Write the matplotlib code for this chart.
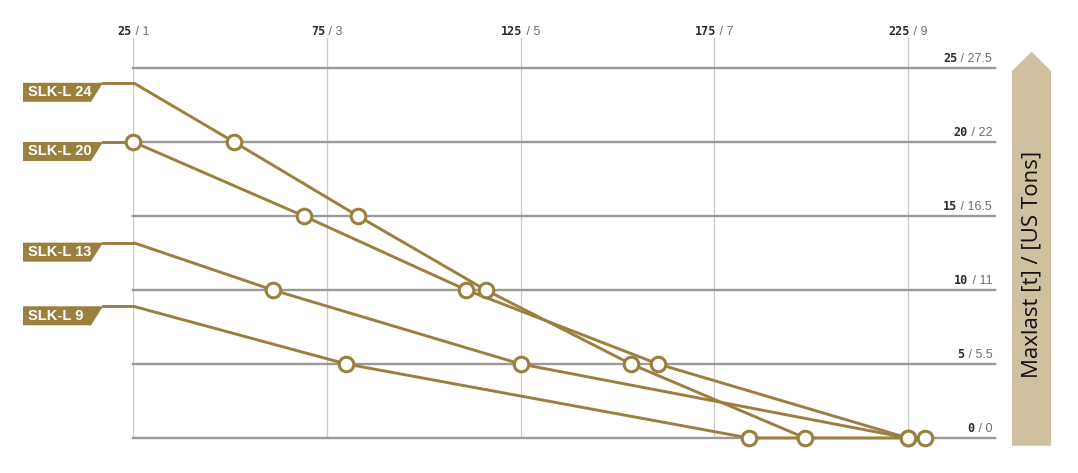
import matplotlib
matplotlib.use("Agg")
import matplotlib.pyplot as plt
from matplotlib.patches import Polygon
from matplotlib.offsetbox import TextArea, HPacker, AnnotationBbox
import matplotlib.transforms as mtransforms

# --- data ---
series_names = ["SLK-L 24", "SLK-L 20", "SLK-L 13", "SLK-L 9"]
x_24 = [25, 51, 83, 116, 153.5, 198.5]
y_24 = [24, 20, 15, 10, 5, 0]
x_20 = [25, 69, 111, 160.5, 225]
y_20 = [20, 15, 10, 5, 0]
x_13 = [25, 61, 125, 225]
y_13 = [13.2, 10, 5, 0]
x_9 = [25, 80, 184, 229.5]
y_9 = [8.9, 5, 0, 0]

x_ticks = [25, 75, 125, 175, 225]
x_tick_alt = ["1", "3", "5", "7", "9"]
y_ticks = [0, 5, 10, 15, 20, 25]
y_tick_alt = ["0", "5.5", "11", "16.5", "22", "27.5"]

GOLD = "#9b7f3e"
W, H = 1078, 473

fig = plt.figure(figsize=(W / 100, H / 100), dpi=100)
left, right, top, bottom = 133.4, 995, 38, 438
ax = fig.add_axes([left / W, (H - bottom) / H, (right - left) / W, (bottom - top) / H])
ax.set_xlim(25, 25 + (right - left) / 3.872)
ax.set_ylim(0, (bottom - top) / 14.8)

for s in ax.spines.values():
    s.set_visible(False)
ax.set_xticks([])
ax.set_yticks([])
for xv in x_ticks:
    ax.axvline(xv, color="#c9c9c9", lw=0.9, zorder=0)
for yv in y_ticks:
    ax.axhline(yv, color="#999999", lw=1.7, zorder=1, clip_on=False)


def two_tone(bold, rest, xy, xycoords, align, offset):
    box = HPacker(children=[
        TextArea(bold, textprops=dict(family="DejaVu Sans Mono", weight="bold", size=8.5, color="#2b2b2b")),
        TextArea(" / " + rest, textprops=dict(family="Liberation Sans", size=9, color="#6e6e6e")),
    ], align="baseline", pad=0, sep=0)
    ab = AnnotationBbox(box, xy, xycoords=xycoords, xybox=offset, boxcoords="offset points",
                        box_alignment=align, frameon=False, annotation_clip=False)
    ax.add_artist(ab)


for xv, alt in zip(x_ticks, x_tick_alt):
    two_tone(str(xv), alt, (xv, 1), ax.get_xaxis_transform(), (0.5, 0), (0, 0))
for yv, alt in zip(y_ticks, y_tick_alt):
    two_tone(str(yv), alt, (1, yv), ax.get_yaxis_transform(), (1, 0), (-2, 2.5))

# --- curves ---
all_x = [x_24, x_20, x_13, x_9]
all_y = [y_24, y_20, y_13, y_9]
for xs, ys in zip(all_x, all_y):
    ax.plot(xs, ys, color=GOLD, lw=2.1, zorder=3, clip_on=False, solid_capstyle="butt")
for xs, ys in zip(all_x, all_y):
    mx = [a for a, b in zip(xs, ys) if b % 5 == 0]
    my = [b for b in ys if b % 5 == 0]
    ax.plot(mx, my, "o", ms=10.5, mfc="white", mec=GOLD, mew=2.2, zorder=4, clip_on=False)

# --- flag labels on the left ---
blend = mtransforms.blended_transform_factory(mtransforms.IdentityTransform(), ax.transData)
flag_h = 19 / 14.8
for name, xs, ys in zip(series_names, all_x, all_y):
    y0 = ys[0]
    x0_px = ax.transData.transform((xs[0], y0))[0]
    flag = Polygon([(23, y0), (103, y0), (91, y0 - flag_h), (23, y0 - flag_h)],
                   closed=True, facecolor=GOLD, edgecolor="none", transform=blend, clip_on=False)
    ax.add_patch(flag)
    ax.plot([103, x0_px], [y0, y0], color=GOLD, lw=2.1, transform=blend, clip_on=False)
    ax.text(28, y0 - flag_h / 2, name, transform=blend, color="white", fontsize=10.5,
            family="Liberation Sans", weight="bold", ha="left", va="center")

# --- arrow with axis title on the right ---
arrow_px = [(1012, 445.7), (1012, 71), (1031.7, 51.7), (1051, 71), (1051, 445.7)]
fig.patches.append(Polygon([(px / W, 1 - py / H) for px, py in arrow_px], closed=True,
                           facecolor="#cfc0a0", edgecolor="none", transform=fig.transFigure))
fig.text(1032 / W, 1 - 264 / H, "Maxlast [t] / [US Tons]", rotation=90, ha="center", va="center",
         fontsize=16, family="Open Sans", color="#111111")

fig.savefig("out.png", dpi=100)
